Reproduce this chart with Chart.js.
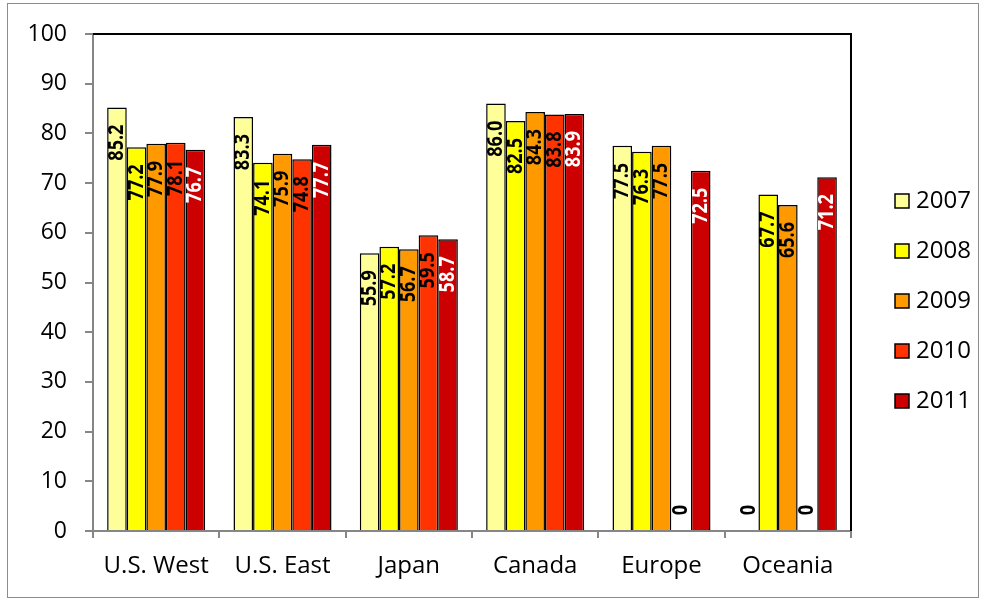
<!DOCTYPE html>
<html>
<head>
<meta charset="utf-8">
<script src="https://cdn.jsdelivr.net/npm/chart.js@4"></script>
<style>
  html, body { margin: 0; padding: 0; background: #fff; }
  #wrap { width: 987px; height: 601px; position: relative; }
</style>
</head>
<body>
<div id="wrap"><canvas id="chart"></canvas></div>
<script>
// data
const regions = ['U.S. West', 'U.S. East', 'Japan', 'Canada', 'Europe', 'Oceania'];
const years = ['2007', '2008', '2009', '2010', '2011'];
const values2007 = [85.2, 83.3, 55.9, 86.0, 77.5, 0];
const values2008 = [77.2, 74.1, 57.2, 82.5, 76.3, 67.7];
const values2009 = [77.9, 75.9, 56.7, 84.3, 77.5, 65.6];
const values2010 = [78.1, 74.8, 59.5, 83.8, 0, 0];
const values2011 = [76.7, 77.7, 58.7, 83.9, 72.5, 71.2];
const yMin = 0;
const yMax = 100;
const yStep = 10;

const seriesValues = [values2007, values2008, values2009, values2010, values2011];
const barColors = ['#FFFF99', '#FFFF00', '#FF9900', '#FF3300', '#CC0000'];
const labelColors = ['#000', '#000', '#000', '#000', '#fff'];

const FONT = '"Open Sans", "DejaVu Sans", sans-serif';

const datasets = years.map((year, i) => ({
    label: year,
    data: seriesValues[i],
    backgroundColor: barColors[i],
    borderColor: '#000',
    borderWidth: ctx => (ctx.raw === 0 ? 0 : 1.5),
    labelColor: labelColors[i]
}));

// outer frame of the picture
const frame = {
    id: 'frame',
    beforeDraw(chart) {
        const ctx = chart.ctx;
        ctx.save();
        ctx.fillStyle = '#fff';
        ctx.fillRect(0, 0, chart.width, chart.height);
        ctx.strokeStyle = '#8c8c8c';
        ctx.lineWidth = 1;
        ctx.strokeRect(7.5, 3.5, 971, 594);
        ctx.restore();
    },
    afterDraw(chart) {
        // black top and right edge of the plot area
        const a = chart.chartArea;
        const ctx = chart.ctx;
        ctx.save();
        ctx.strokeStyle = '#000';
        ctx.lineWidth = 2;
        ctx.beginPath();
        ctx.moveTo(a.left, a.top);
        ctx.lineTo(a.right, a.top);
        ctx.lineTo(a.right, a.bottom);
        ctx.stroke();
        ctx.restore();
    }
};

// rotated value labels inside the bars
const barLabels = {
    id: 'barLabels',
    afterDatasetsDraw(chart) {
        const ctx = chart.ctx;
        chart.data.datasets.forEach((ds, i) => {
            const meta = chart.getDatasetMeta(i);
            meta.data.forEach((bar, j) => {
                const v = ds.data[j];
                const text = v === 0 ? '0' : v.toFixed(1);
                ctx.save();
                ctx.font = 'bold 21px ' + FONT;
                ctx.fillStyle = v === 0 ? '#000' : ds.labelColor;
                ctx.textBaseline = 'middle';
                if (v === 0) {
                    ctx.translate(bar.x, bar.base - 21);
                    ctx.textAlign = 'center';
                } else {
                    ctx.translate(bar.x, bar.y + 17);
                    ctx.textAlign = 'right';
                }
                ctx.rotate(-Math.PI / 2);
                ctx.scale(0.86, 1);
                ctx.fillText(text, 0, 0);
                ctx.restore();
            });
        });
    }
};

// legend on the right
const sideLegend = {
    id: 'sideLegend',
    afterDraw(chart) {
        const ctx = chart.ctx;
        const n = chart.data.datasets.length;
        ctx.save();
        ctx.font = '24px ' + FONT;
        ctx.textBaseline = 'middle';
        ctx.textAlign = 'left';
        chart.data.datasets.forEach((ds, i) => {
            const y = 301 + (i - (n - 1) / 2) * 50;
            ctx.fillStyle = ds.backgroundColor;
            ctx.fillRect(895, y - 7, 14, 14);
            ctx.strokeStyle = '#000';
            ctx.lineWidth = 1.5;
            ctx.strokeRect(895, y - 7, 14, 14);
            ctx.fillStyle = '#000';
            ctx.fillText(ds.label, 916, y);
        });
        ctx.restore();
    }
};

new Chart(document.getElementById('chart'), {
    type: 'bar',
    data: {
        labels: regions,
        datasets: datasets
    },
    options: {
        responsive: true,
        maintainAspectRatio: false,
        animation: false,
        layout: {
            padding: { top: 34, right: 136, bottom: 0, left: 0 }
        },
        datasets: {
            bar: {
                categoryPercentage: 0.776,
                barPercentage: 1
            }
        },
        plugins: {
            legend: { display: false },
            tooltip: { enabled: false }
        },
        scales: {
            x: {
                grid: {
                    offset: true,
                    drawOnChartArea: false,
                    tickLength: 7,
                    color: '#868686',
                    lineWidth: 2
                },
                border: { color: '#868686', width: 2 },
                ticks: {
                    color: '#000',
                    padding: 14,
                    font: { family: FONT, size: 24 }
                },
                afterFit(scale) { scale.height = 70; }
            },
            y: {
                min: yMin,
                max: yMax,
                ticks: {
                    stepSize: yStep,
                    color: '#000',
                    padding: 18,
                    font: { family: FONT, size: 23 }
                },
                grid: {
                    drawOnChartArea: false,
                    tickLength: 8,
                    color: '#868686',
                    lineWidth: 2
                },
                border: { color: '#868686', width: 2 },
                afterFit(scale) { scale.width = 93; }
            }
        }
    },
    plugins: [frame, barLabels, sideLegend]
});
</script>
</body>
</html>
